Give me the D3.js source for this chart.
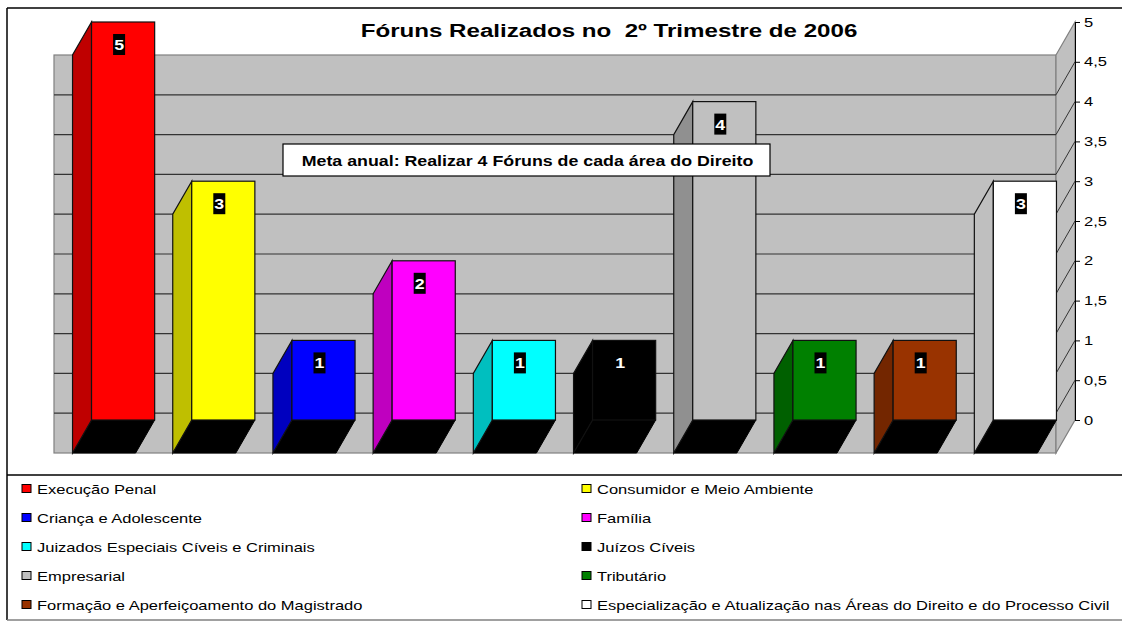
<!DOCTYPE html>
<html>
<head>
<meta charset="utf-8">
<script src="https://cdn.jsdelivr.net/npm/d3@7"></script>
<style>
  body { margin: 0; background: #fff; }
  text { font-family: "Liberation Sans", Arial, sans-serif; white-space: pre; }
</style>
</head>
<body>
<div id="grafica"></div>
<script>
// Fóruns por área
const categories = [
  "Execução Penal",
  "Consumidor e Meio Ambiente",
  "Criança e Adolescente",
  "Família",
  "Juizados Especiais Cíveis e Criminais",
  "Juízos Cíveis",
  "Empresarial",
  "Tributário",
  "Formação e Aperfeiçoamento do Magistrado",
  "Especialização e Atualização nas Áreas do Direito e do Processo Civil"
]
const values = [5, 3, 1, 2, 1, 1, 4, 1, 1, 3]
const colors = ["#FF0000", "#FFFF00", "#0000FF", "#FF00FF", "#00FFFF",
                "#000000", "#C0C0C0", "#008000", "#993300", "#FFFFFF"]
const ticks = [0, 0.5, 1, 1.5, 2, 2.5, 3, 3.5, 4, 4.5, 5]
const title = "Fóruns Realizados no  2º Trimestre de 2006"
const note = "Meta anual: Realizar 4 Fóruns de cada área do Direito"

const width = 1122
const height = 621
// deslocamento da profundidade 3D
const dx = 19, dy = 33
// o texto do original é esticado na horizontal
const stretch = 1.27
const place = (x, y) => "translate(" + x + "," + y + ") scale(" + stretch + ",1)"

const svg = d3.select("#grafica").append("svg")
  .attr("width", width)
  .attr("height", height)

// escalas (plano de trás)
const yScale = d3.scaleLinear().domain([0, 5]).range([420, 22])
const yFront = v => yScale(v) + dy
const xScale = d3.scaleBand()
  .domain(categories)
  .range([54, 1056])
  .paddingInner(0.37)
  .paddingOuter(0.185)
const bw = xScale.bandwidth()

// parede de fundo
svg.append("rect")
  .attr("x", 54).attr("y", yFront(5))
  .attr("width", 1056 - 54).attr("height", yFront(0) - yFront(5))
  .attr("fill", "#C0C0C0").attr("stroke", "#808080").attr("stroke-width", 1.2)

// parede lateral
svg.append("polygon")
  .attr("points", [[1056, yFront(5)], [1056 + dx, yScale(5)], [1056 + dx, yScale(0)], [1056, yFront(0)]].join(" "))
  .attr("fill", "#C0C0C0").attr("stroke", "#808080").attr("stroke-width", 1.2)

const grid = ticks.filter(t => t > 0 && t < 5)
svg.selectAll("line.grid")
  .data(grid)
  .enter()
  .append("line")
  .attr("class", "grid")
  .attr("x1", 54).attr("x2", 1056)
  .attr("y1", d => yFront(d)).attr("y2", d => yFront(d))
  .attr("stroke", "#333").attr("stroke-width", 1.2)

svg.selectAll("line.gridside")
  .data(grid)
  .enter()
  .append("line")
  .attr("class", "gridside")
  .attr("x1", 1056).attr("x2", 1056 + dx)
  .attr("y1", d => yFront(d)).attr("y2", d => yScale(d))
  .attr("stroke", "#333").attr("stroke-width", 1)

// eixo y à direita
const yAxis = d3.axisRight(yScale)
  .tickValues(ticks)
  .tickSize(5)
  .tickPadding(3)
  .tickFormat(d => String(d).replace(".", ","))

const axisG = svg.append("g")
  .attr("transform", "translate(" + (1056 + dx) + ",0)")
  .call(yAxis)
axisG.select(".domain").attr("stroke", "#000")
axisG.selectAll(".tick line").attr("stroke", "#000")
axisG.selectAll("text")
  .attr("x", 9 / stretch)
  .attr("transform", "scale(" + stretch + ",1)")
  .attr("font-size", 13)
  .attr("font-family", "Liberation Sans, Arial, sans-serif")
  .attr("fill", "#000")

// barras 3D
const data = categories.map((c, i) => ({ c: c, v: values[i], color: colors[i] }))
const bars = svg.selectAll("g.bar")
  .data(data)
  .enter()
  .append("g")
  .attr("class", "bar")

bars.append("polygon")
  .attr("points", d => {
    const x0 = xScale(d.c)
    return [[x0, yFront(0)], [x0 + dx, yScale(0)], [x0 + dx + bw, yScale(0)], [x0 + bw, yFront(0)]].join(" ")
  })
  .attr("fill", "#000").attr("stroke", "#000")

bars.append("polygon")
  .attr("points", d => {
    const x0 = xScale(d.c)
    return [[x0, yFront(0)], [x0, yFront(d.v)], [x0 + dx, yScale(d.v)], [x0 + dx, yScale(0)]].join(" ")
  })
  .attr("fill", d => {
    const c = d3.rgb(d.color)
    return d3.rgb(c.r * 0.75, c.g * 0.75, c.b * 0.75)
  })
  .attr("stroke", "#111").attr("stroke-width", 1.2)

bars.append("rect")
  .attr("x", d => xScale(d.c) + dx)
  .attr("y", d => yScale(d.v))
  .attr("width", bw)
  .attr("height", d => yScale(0) - yScale(d.v))
  .attr("fill", d => d.color)
  .attr("stroke", "#111").attr("stroke-width", 1.2)

// rótulos de valor
bars.append("rect")
  .attr("x", d => xScale(d.c) + dx + bw / 2 - 4 - 6)
  .attr("y", d => yScale(d.v) + 12)
  .attr("width", 12)
  .attr("height", 21)
  .attr("fill", "#000")

bars.append("text")
  .attr("transform", d => place(xScale(d.c) + dx + bw / 2 - 4, yScale(d.v) + 28))
  .attr("text-anchor", "middle")
  .attr("font-size", 14)
  .attr("font-weight", "bold")
  .attr("fill", "#fff")
  .text(d => d.v)

// título
svg.append("text")
  .attr("transform", place(609, 37))
  .attr("text-anchor", "middle")
  .attr("font-size", 19)
  .attr("font-weight", "bold")
  .text(title)

// caixa de meta
svg.append("rect")
  .attr("x", 283).attr("y", 144)
  .attr("width", 487).attr("height", 32)
  .attr("fill", "#fff").attr("stroke", "#000").attr("stroke-width", 1.2)
svg.append("text")
  .attr("transform", place(527.5, 166))
  .attr("text-anchor", "middle")
  .attr("font-size", 14)
  .attr("font-weight", "bold")
  .text(note)

// bordas
svg.append("line").attr("x1", 7).attr("x2", width).attr("y1", 8).attr("y2", 8)
  .attr("stroke", "#000").attr("stroke-width", 1.5)
svg.append("line").attr("x1", 7).attr("x2", 7).attr("y1", 8).attr("y2", 620)
  .attr("stroke", "#000").attr("stroke-width", 1.5)
svg.append("line").attr("x1", 7).attr("x2", width).attr("y1", 475).attr("y2", 475)
  .attr("stroke", "#000").attr("stroke-width", 1.5)
svg.append("line").attr("x1", 7).attr("x2", width).attr("y1", 620).attr("y2", 620)
  .attr("stroke", "#808080").attr("stroke-width", 1.5)

// legenda
const legend = svg.selectAll("g.legend")
  .data(data)
  .enter()
  .append("g")
  .attr("class", "legend")
  .attr("transform", (d, i) => "translate(" + (i % 2 === 0 ? 22 : 582) + "," + (488.5 + Math.floor(i / 2) * 29) + ")")

legend.append("rect")
  .attr("x", 0).attr("y", -4)
  .attr("width", 9).attr("height", 8)
  .attr("fill", d => d.color)
  .attr("stroke", "#000").attr("stroke-width", 1)

legend.append("text")
  .attr("transform", place(15, 5))
  .attr("font-size", 13)
  .text(d => d.c)
</script>
</body>
</html>
